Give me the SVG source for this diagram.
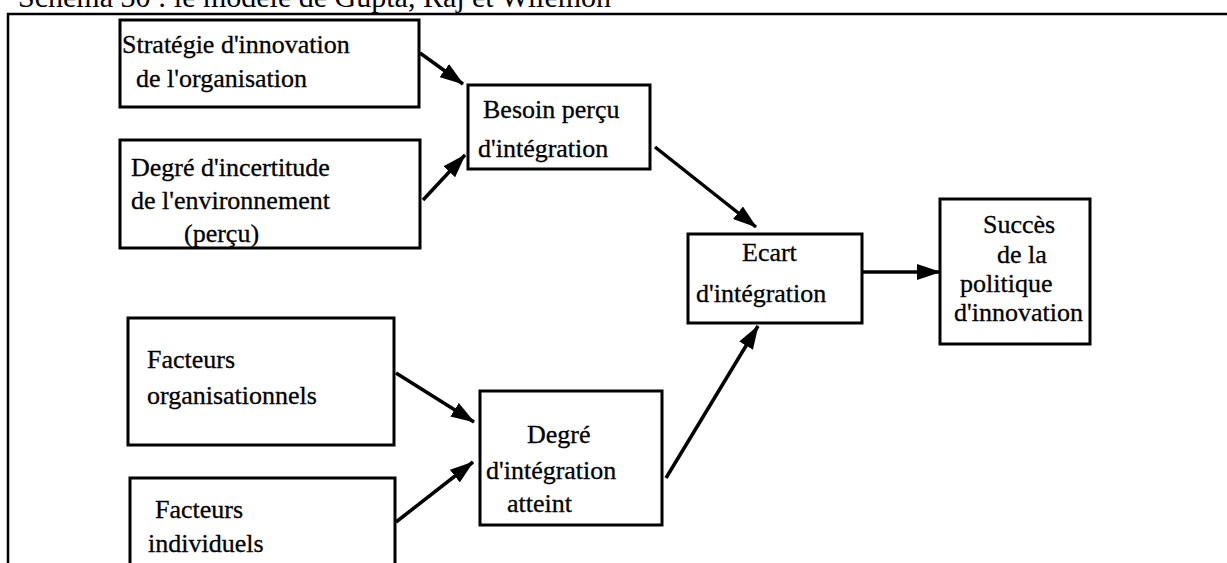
<svg xmlns="http://www.w3.org/2000/svg" width="1227" height="563" viewBox="0 0 1227 563">
<defs>
<style>
.t{font-family:"Liberation Serif","Times New Roman",serif;font-size:26px;fill:#000;stroke:#000;stroke-width:0.3}
.ttl{font-family:"Liberation Serif","Times New Roman",serif;font-size:30px;fill:#000}
.box{fill:#fff;stroke:#000;stroke-width:3}
.c{stroke:#000;stroke-width:3.5;fill:none}
</style>
<marker id="ah" viewBox="0 0 24 16" refX="23" refY="8" markerWidth="24" markerHeight="16" markerUnits="userSpaceOnUse" orient="auto">
<path d="M0,0 L24,8 L0,16 z" fill="#000"/>
</marker>
</defs>
<rect width="1227" height="563" fill="#fff"/>
<text class="ttl" x="18" y="7">Schéma 30 : le modèle de Gupta, Raj et Wilemon</text>
<path d="M8,570 L8,14 L1230,14" fill="none" stroke="#000" stroke-width="2.5"/>

<g id="n-strategie">
<rect class="box" x="120" y="20" width="299" height="87"/>
<text class="t" x="122" y="53">Stratégie d'innovation</text>
<text class="t" x="136" y="87">de l'organisation</text>
</g>
<g id="n-incertitude">
<rect class="box" x="120" y="140" width="300" height="108"/>
<text class="t" x="131" y="176">Degré d'incertitude</text>
<text class="t" x="131" y="209">de l'environnement</text>
<text class="t" x="184" y="242">(perçu)</text>
</g>
<g id="n-besoin">
<rect class="box" x="468" y="85" width="182" height="84"/>
<text class="t" x="483" y="118">Besoin perçu</text>
<text class="t" x="478" y="157">d'intégration</text>
</g>
<g id="n-ecart">
<rect class="box" x="688" y="234" width="174" height="89"/>
<text class="t" x="742" y="261">Ecart</text>
<text class="t" x="696" y="302">d'intégration</text>
</g>
<g id="n-succes">
<rect class="box" x="940" y="199" width="150" height="145"/>
<text class="t" x="983" y="233">Succès</text>
<text class="t" x="997" y="263">de la</text>
<text class="t" x="960" y="292">politique</text>
<text class="t" x="954" y="321">d'innovation</text>
</g>
<g id="n-org">
<rect class="box" x="128" y="318" width="266" height="127"/>
<text class="t" x="147" y="368">Facteurs</text>
<text class="t" x="147" y="404">organisationnels</text>
</g>
<g id="n-ind">
<rect class="box" x="130" y="478" width="265" height="100"/>
<text class="t" x="155" y="518">Facteurs</text>
<text class="t" x="148" y="552">individuels</text>
</g>
<g id="n-degre">
<rect class="box" x="480" y="391" width="182" height="134"/>
<text class="t" x="527" y="443">Degré</text>
<text class="t" x="486" y="479">d'intégration</text>
<text class="t" x="507" y="512">atteint</text>
</g>

<g id="connectors">
<line class="c" x1="420" y1="53" x2="463" y2="84" marker-end="url(#ah)"/>
<line class="c" x1="423" y1="200" x2="465" y2="155" marker-end="url(#ah)"/>
<line class="c" x1="655" y1="147" x2="756" y2="227" marker-end="url(#ah)"/>
<line class="c" x1="862" y1="272" x2="940" y2="272" marker-end="url(#ah)"/>
<line class="c" x1="396" y1="373" x2="474" y2="422" marker-end="url(#ah)"/>
<line class="c" x1="396" y1="522" x2="473" y2="462" marker-end="url(#ah)"/>
<line class="c" x1="666" y1="478" x2="758" y2="326" marker-end="url(#ah)"/>
</g>
</svg>
